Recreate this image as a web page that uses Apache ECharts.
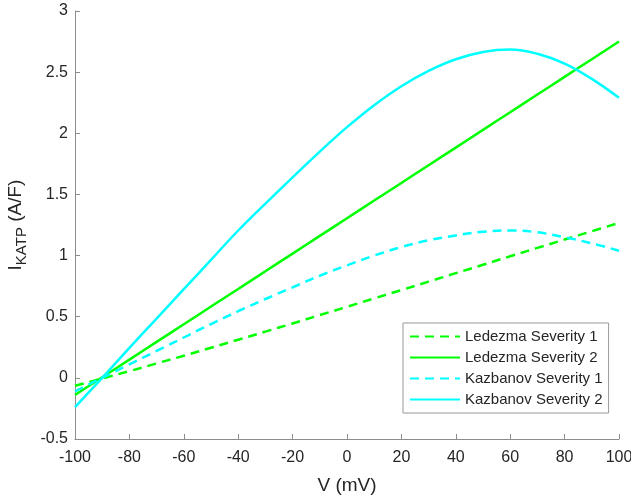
<!DOCTYPE html>
<html>
<head>
<meta charset="utf-8">
<script src="https://cdn.jsdelivr.net/npm/echarts@6/dist/echarts.min.js"></script>
<style>
html, body { margin: 0; padding: 0; background: #fff; }
#chartmain { width: 631px; height: 495px; }
</style>
</head>
<body>
<div id="chartmain"></div>
<script>
// membrane voltage (mV)
var voltage = [-100, -90, -80, -70, -60, -50, -40, -30, -20, -10, 0,
               10, 20, 30, 40, 50, 60, 70, 80, 90, 100];
// I_KATP (A/F)
var ledezma1 = [-0.065, -0.005, 0.055, 0.118, 0.181, 0.246, 0.312, 0.378, 0.445, 0.513, 0.581,
                0.65, 0.718, 0.787, 0.856, 0.925, 0.994, 1.063, 1.131, 1.199, 1.267];
var ledezma2 = [-0.14, 0.005, 0.149, 0.294, 0.438, 0.583, 0.727, 0.872, 1.016, 1.161, 1.305,
                1.45, 1.594, 1.739, 1.883, 2.028, 2.172, 2.317, 2.461, 2.606, 2.75];
var kazbanov1 = [-0.11, 0.0, 0.11, 0.22, 0.33, 0.44, 0.545, 0.645, 0.74, 0.835, 0.92,
                 1.0, 1.07, 1.125, 1.165, 1.195, 1.205, 1.19, 1.15, 1.10, 1.04];
var kazbanov2 = [-0.24, 0.0, 0.245, 0.485, 0.725, 0.965, 1.205, 1.425, 1.64, 1.85, 2.05,
                 2.23, 2.385, 2.51, 2.605, 2.665, 2.685, 2.65, 2.57, 2.445, 2.29];
var seriesNames = ['Ledezma Severity 1', 'Ledezma Severity 2', 'Kazbanov Severity 1', 'Kazbanov Severity 2'];

function pairs(ys) {
	var out = [];
	for (var i = 0; i < voltage.length; i++) {
		out.push([voltage[i], ys[i]]);
	}
	return out;
}

function line(name, ys, color, dashed) {
	return {
		name : name,
		type : 'line',
		smooth : 0.4,
		symbol : 'none',
		lineStyle : {
			color : color,
			width : 2.5,
			type : dashed ? [9, 6] : 'solid'
		},
		itemStyle : { color : color },
		data : pairs(ys)
	};
}

var textColor = '#262626';
var axisColor = '#8c8c8c';
var font = 'Liberation Sans, Arial, sans-serif';

var option = {
	animation : false,
	grid : { left : 75, right : 12, top : 11, bottom : 56, outerBoundsMode : 'none', containLabel : false },
	legend : {
		orient : 'vertical',
		left : 403,
		top : 323,
		data : seriesNames,
		itemWidth : 50,
		itemHeight : 14,
		itemGap : 6,
		padding : [6, 6, 6, 6],
		borderColor : '#999',
		borderWidth : 1,
		backgroundColor : '#fff',
		itemStyle : { opacity : 0 },
		textStyle : { color : textColor, fontSize : 15, fontFamily : font }
	},
	xAxis : {
		type : 'value',
		min : -100,
		max : 100,
		interval : 20,
		name : 'V (mV)',
		nameLocation : 'middle',
		nameGap : 37,
		nameTextStyle : { color : textColor, fontSize : 19, fontFamily : font },
		axisLine : { onZero : false, lineStyle : { color : axisColor } },
		axisTick : { inside : true, length : 5, lineStyle : { color : axisColor } },
		axisLabel : { color : textColor, fontSize : 16, fontFamily : font, margin : 11 },
		splitLine : { show : false }
	},
	yAxis : {
		type : 'value',
		min : -0.5,
		max : 3,
		interval : 0.5,
		name : '{m|I}{s|KATP}{m| (A/F)}',
		nameLocation : 'middle',
		nameGap : 36,
		nameTextStyle : {
			color : textColor,
			fontFamily : font,
			rich : {
				m : { fontSize : 19, color : textColor, fontFamily : font },
				s : { fontSize : 15, color : textColor, fontFamily : font, padding : [12, 0, 0, 0] }
			}
		},
		axisLine : { show : true, onZero : false, lineStyle : { color : axisColor } },
		axisTick : { show : true, inside : true, length : 5, lineStyle : { color : axisColor } },
		axisLabel : { color : textColor, fontSize : 16, fontFamily : font, margin : 7 },
		splitLine : { show : false }
	},
	series : [
		line(seriesNames[0], ledezma1, '#00ff00', true),
		line(seriesNames[1], ledezma2, '#00ff00', false),
		line(seriesNames[2], kazbanov1, '#00ffff', true),
		line(seriesNames[3], kazbanov2, '#00ffff', false)
	]
};

var myChart = echarts.init(document.getElementById('chartmain'));
myChart.setOption(option);
</script>
</body>
</html>
